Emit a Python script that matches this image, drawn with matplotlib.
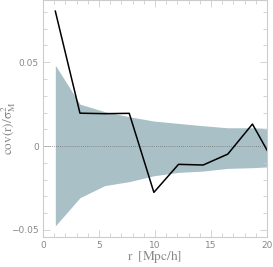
import numpy as np
import matplotlib
matplotlib.use('Agg')
import matplotlib.pyplot as plt
from matplotlib.ticker import MultipleLocator

plt.rcParams['mathtext.fontset'] = 'stix'

# data
r = [1.1, 3.3, 5.5, 7.7, 9.9, 12.1, 14.3, 16.5, 18.7, 20.9]
cov = [0.0804, 0.0196, 0.0193, 0.0195, -0.0276, -0.0109, -0.0113, -0.0048, 0.0131, -0.0131]
band_hi = [0.0482, 0.0250, 0.0205, 0.0175, 0.0149, 0.0135, 0.0121, 0.0109, 0.0109, 0.0103]
band_lo = [-0.0476, -0.0308, -0.0236, -0.0212, -0.0177, -0.0157, -0.0149, -0.0133, -0.0129, -0.0121]

grey = '#888888'

fig = plt.figure(figsize=(2.73, 2.67), dpi=100)
ax = fig.add_axes([0.1575, 0.1124, 0.8205, 0.8866])

ax.fill_between(r, band_lo, band_hi, color='#a9c0c6', lw=0)
ax.axhline(0, color='#777777', lw=0.6, ls=(0, (1, 1.5)))
ax.plot(r, cov, color='black', lw=1.1)

ax.set_xlim(0, 20)
ax.set_ylim(-0.0542, 0.0869)
ax.xaxis.set_major_locator(MultipleLocator(5))
ax.xaxis.set_minor_locator(MultipleLocator(1))
ax.yaxis.set_minor_locator(MultipleLocator(0.01))
ax.set_yticks([-0.05, 0, 0.05])
ax.set_yticklabels(['\u22120.05', '0', '0.05'])

ax.tick_params(which='both', direction='in', top=True, right=True,
               color='#cccccc', labelcolor=grey, labelsize=6.5, width=0.6, pad=3)
ax.tick_params(which='major', length=5)
ax.tick_params(which='minor', length=3)
for s in ax.spines.values():
    s.set_color('#cccccc')
    s.set_linewidth(0.8)

ax.set_xlabel(r'$\mathrm{r\ \ [Mpc/h]}$', color=grey, fontsize=9.5)
ax.set_ylabel(r'$\mathrm{cov(r)/\sigma^2_M}$', color=grey, fontsize=9.5)
ax.xaxis.set_label_coords(0.5, -0.052)
ax.yaxis.set_label_coords(-0.11, 0.46)

fig.savefig('out.png', dpi=100)
